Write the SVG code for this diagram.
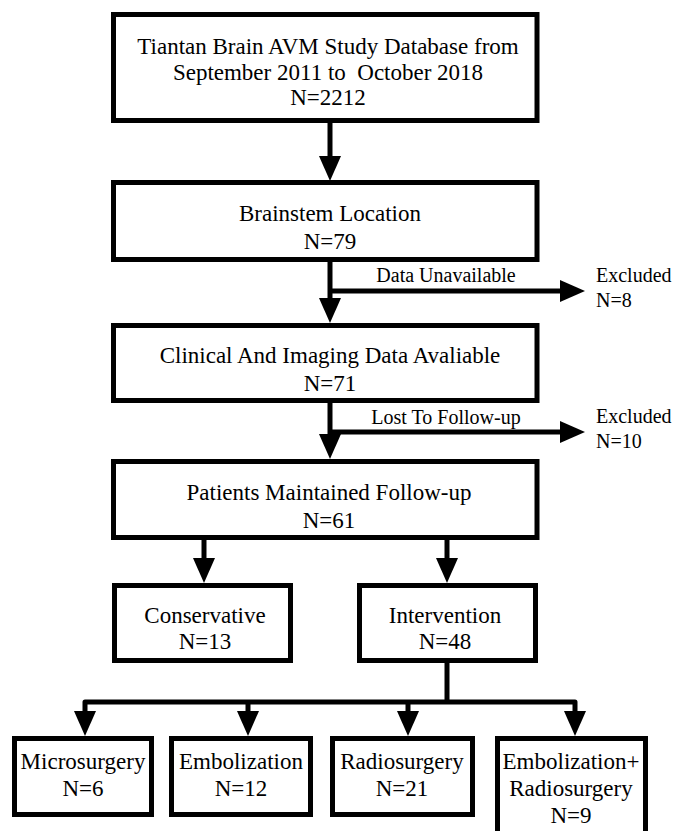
<svg xmlns="http://www.w3.org/2000/svg" width="675" height="831" viewBox="0 0 675 831">
<style>
.box { fill: #fff; stroke: #000; stroke-width: 5; }
.ln { fill: none; stroke: #000; stroke-width: 5; stroke-linejoin: round; }
.m { font-family: "Liberation Serif", "Times New Roman", serif; font-size: 23px; fill: #000; text-anchor: middle; }
.s { font-family: "Liberation Serif", "Times New Roman", serif; font-size: 20px; fill: #000; }
</style>
<defs>
<marker id="ah" markerUnits="userSpaceOnUse" markerWidth="25" markerHeight="22" refX="5" refY="11" orient="auto-start-reverse">
<path d="M0,0 L25,11 L0,22 Z" fill="#000"/>
</marker>
</defs>
<rect width="675" height="831" fill="#fff"/>
<g id="connectors">
<path class="ln" d="M330,123 V161" marker-end="url(#ah)"/>
<path class="ln" d="M330,262 V303" marker-end="url(#ah)"/>
<path class="ln" d="M330,291 H565" marker-end="url(#ah)"/>
<path class="ln" d="M330,403 V439" marker-end="url(#ah)"/>
<path class="ln" d="M330,432 H565" marker-end="url(#ah)"/>
<path class="ln" d="M204,540 V563" marker-end="url(#ah)"/>
<path class="ln" d="M447,540 V563" marker-end="url(#ah)"/>
<path class="ln" d="M447,663 V702"/>
<path class="ln" d="M85,716 V702 H575 V716" marker-start="url(#ah)" marker-end="url(#ah)"/>
<path class="ln" d="M248,702 V716" marker-end="url(#ah)"/>
<path class="ln" d="M408,702 V716" marker-end="url(#ah)"/>
<text class="s" x="446" y="282" text-anchor="middle">Data Unavailable</text>
<text class="s" x="446" y="424" text-anchor="middle">Lost To Follow-up</text>
</g>
<g id="excluded1">
<text class="s" x="596" y="282">Excluded</text>
<text class="s" x="596" y="307">N=8</text>
</g>
<g id="excluded2">
<text class="s" x="596" y="423">Excluded</text>
<text class="s" x="596" y="448">N=10</text>
</g>
<g id="database">
<rect class="box" x="113.5" y="14.5" width="423.5" height="106"/>
<text class="m" x="328" y="54">Tiantan Brain AVM Study Database from</text>
<text class="m" x="328" y="80">September 2011 to&#160; October 2018</text>
<text class="m" x="328" y="105">N=2212</text>
</g>
<g id="brainstem">
<rect class="box" x="113.5" y="182.5" width="423.5" height="77"/>
<text class="m" x="330" y="221">Brainstem Location</text>
<text class="m" x="330" y="249">N=79</text>
</g>
<g id="clinical">
<rect class="box" x="113.5" y="325.5" width="423.5" height="75"/>
<text class="m" x="330" y="363">Clinical And Imaging Data Avaliable</text>
<text class="m" x="330" y="391">N=71</text>
</g>
<g id="followup">
<rect class="box" x="113.5" y="461.5" width="423.5" height="76"/>
<text class="m" x="329" y="500">Patients Maintained Follow-up</text>
<text class="m" x="329" y="528">N=61</text>
</g>
<g id="conservative">
<rect class="box" x="114.5" y="585.5" width="176" height="75"/>
<text class="m" x="205" y="623">Conservative</text>
<text class="m" x="205" y="649">N=13</text>
</g>
<g id="intervention">
<rect class="box" x="359.5" y="585.5" width="176" height="75"/>
<text class="m" x="445" y="623">Intervention</text>
<text class="m" x="445" y="649">N=48</text>
</g>
<g id="microsurgery">
<rect class="box" x="14.5" y="738.5" width="137" height="76"/>
<text class="m" x="83" y="769">Microsurgery</text>
<text class="m" x="83" y="796">N=6</text>
</g>
<g id="embolization">
<rect class="box" x="171.5" y="738.5" width="139" height="76"/>
<text class="m" x="241" y="769">Embolization</text>
<text class="m" x="241" y="796">N=12</text>
</g>
<g id="radiosurgery">
<rect class="box" x="332.5" y="738.5" width="140" height="76"/>
<text class="m" x="402" y="769">Radiosurgery</text>
<text class="m" x="402" y="796">N=21</text>
</g>
<g id="embolization-radiosurgery">
<rect class="box" x="497.5" y="738.5" width="148" height="110"/>
<text class="m" x="571" y="769">Embolization+</text>
<text class="m" x="571" y="796">Radiosurgery</text>
<text class="m" x="571" y="823">N=9</text>
</g>
</svg>
